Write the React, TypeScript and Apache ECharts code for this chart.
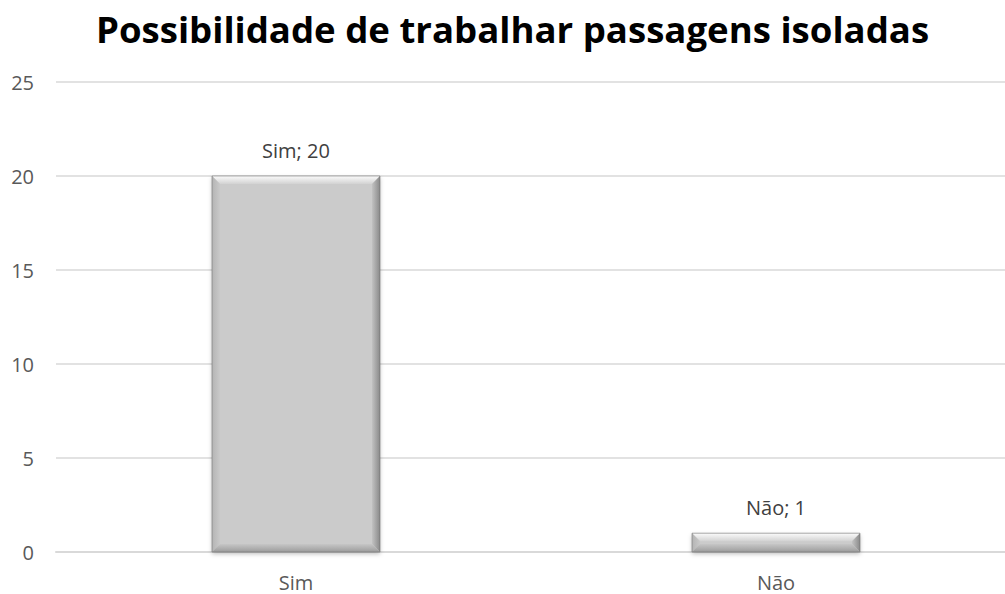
import React, { useEffect, useRef } from "react";
import * as echarts from "echarts";

const categories = ["Sim", "Não"];
const values = [20, 1];
const yTicks = { min: 0, max: 25, interval: 5 };
const title = "Possibilidade de trabalhar passagens isoladas";

const BAR_RATIO = 0.35;

function grad(x1: number, y1: number, x2: number, y2: number, c1: string, c2: string) {
  return new echarts.graphic.LinearGradient(x1, y1, x2, y2, [
    { offset: 0, color: c1 },
    { offset: 1, color: c2 },
  ]);
}

export default function App() {
  const ref = useRef<HTMLDivElement>(null);
  useEffect(() => {
    const chart = echarts.init(ref.current!, undefined, { renderer: "svg" });
    const font = "'Open Sans', sans-serif";
    chart.setOption({
      animation: false,
      backgroundColor: "#ffffff",
      title: {
        text: title,
        left: "center",
        top: 5,
        textStyle: { fontFamily: font, fontWeight: "bold", fontSize: 36.6, color: "#000000" },
      },
      grid: { left: 56, right: 9, top: 82, bottom: 42, containLabel: false },
      xAxis: {
        type: "category",
        data: categories,
        axisLine: { show: true, lineStyle: { color: "#d9d9d9", width: 2 } },
        axisTick: { show: false },
        axisLabel: { color: "#595959", fontSize: 20, fontFamily: font, margin: 20 },
      },
      yAxis: {
        type: "value",
        min: yTicks.min,
        max: yTicks.max,
        interval: yTicks.interval,
        axisLine: { show: false },
        axisTick: { show: false },
        splitLine: { lineStyle: { color: "#d9d9d9", width: 1.5 } },
        axisLabel: { color: "#595959", fontSize: 20, fontFamily: font, margin: 22 },
      },
      series: [
        {
          type: "bar",
          data: values,
          barWidth: BAR_RATIO * 100 + "%",
          z: 2,
          itemStyle: {
            color: "#cbcbcb",
            shadowBlur: 4,
            shadowColor: "rgba(0,0,0,0.25)",
            shadowOffsetY: 2,
          },
          label: {
            show: true,
            position: "top",
            distance: 16,
            formatter: "{b}; {c}",
            color: "#404040",
            fontSize: 20,
            fontFamily: font,
          },
        },
        {
          type: "custom",
          data: values.map((v, i) => [i, v]),
          z: 3,
          silent: true,
          renderItem: (params: any, api: any) => {
            const i = api.value(0);
            const v = api.value(1);
            const top = api.coord([i, v]);
            const base = api.coord([i, 0]);
            const w = api.size([1, 0])[0] * BAR_RATIO;
            const x0 = top[0] - w / 2;
            const x1 = top[0] + w / 2;
            const y0 = top[1];
            const y1 = base[1];
            const h = y1 - y0;
            const b = Math.min(8, h / 2);
            const s = Math.min(8, w / 2);
            return {
              type: "group",
              children: [
                {
                  type: "polygon",
                  shape: { points: [[x0, y0], [x1, y0], [x1 - s, y0 + b], [x0 + s, y0 + b]] },
                  style: { fill: grad(0, 0, 0, 1, "#fbfbfb", "#d2d2d2") },
                },
                {
                  type: "polygon",
                  shape: { points: [[x0, y0], [x0 + s, y0 + b], [x0 + s, y1 - b], [x0, y1]] },
                  style: { fill: grad(0, 0, 1, 0, "#b4b4b4", "#c9c9c9") },
                },
                {
                  type: "polygon",
                  shape: { points: [[x1, y0], [x1, y1], [x1 - s, y1 - b], [x1 - s, y0 + b]] },
                  style: { fill: grad(1, 0, 0, 0, "#8a8a8a", "#c2c2c2") },
                },
                {
                  type: "polygon",
                  shape: { points: [[x0, y1], [x1, y1], [x1 - s, y1 - b], [x0 + s, y1 - b]] },
                  style: { fill: grad(0, 1, 0, 0, "#9c9c9c", "#c6c6c6") },
                },
                {
                  type: "rect",
                  shape: { x: x0, y: y0, width: w, height: h },
                  style: { fill: "none", stroke: "rgba(110,110,110,0.55)", lineWidth: 1 },
                },
              ],
            };
          },
        },
      ],
    });
    return () => chart.dispose();
  }, []);
  return (
    <div style={{ position: "fixed", left: 0, top: 0, width: 1005, height: 594, overflow: "hidden" }}>
      <div ref={ref} style={{ width: 1025, height: 594 }} />
    </div>
  );
}
